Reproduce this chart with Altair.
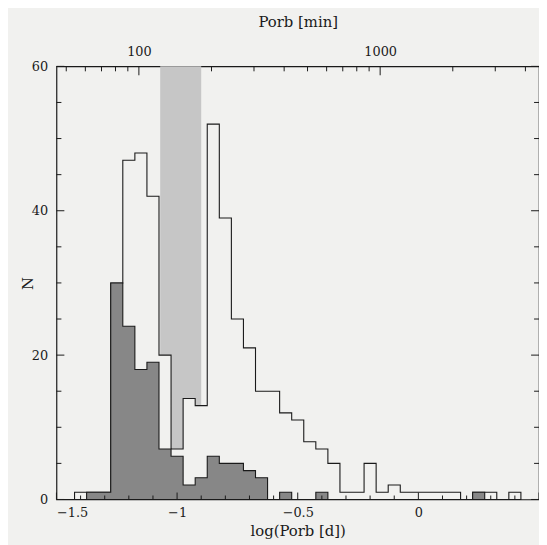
import altair as alt
import pandas as pd

# ---- data (histogram, bin width 0.05 in log P) ----
bin_centers = [-1.40, -1.35, -1.30, -1.25, -1.20, -1.15, -1.10, -1.05, -1.00, -0.95,
               -0.90, -0.85, -0.80, -0.75, -0.70, -0.65, -0.60, -0.55, -0.50, -0.45,
               -0.40, -0.35, -0.30, -0.25, -0.20, -0.15, -0.10, -0.05, 0.00, 0.05,
               0.10, 0.15, 0.20, 0.25, 0.30, 0.35, 0.40]
all_counts = [1, 1, 1, 30, 47, 48, 42, 20, 7, 14,
              13, 52, 39, 25, 21, 15, 15, 12, 11, 8,
              7, 5, 1, 1, 5, 1, 2, 1, 1, 1,
              1, 1, 0, 1, 1, 0, 1]
sub_counts = [0, 1, 1, 30, 24, 18, 19, 7, 6, 2,
              3, 6, 5, 5, 4, 3, 0, 1, 0, 0,
              1, 0, 0, 0, 0, 0, 0, 0, 0, 0,
              0, 0, 0, 1, 0, 0, 0]
gap_edges = [-1.07, -0.90]          # shaded period gap (log P [d])
BIN = 0.05

x_domain = [-1.5, 0.5]
y_domain = [0, 60]
x_labels = [-1.5, -1.0, -0.5, 0.0]
x_major = [-1.5, -1.0, -0.5, 0.0, 0.5]
x_minor = [-1.4, -1.3, -1.2, -1.1, -0.9, -0.8, -0.7, -0.6, -0.4, -0.3, -0.2, -0.1, 0.1, 0.2, 0.3, 0.4]
y_major = [0, 20, 40, 60]
y_minor = [5, 10, 15, 25, 30, 35, 45, 50, 55]
top_major = [100, 1000]
top_minor = [50, 60, 70, 80, 90, 200, 300, 400, 500, 600, 700, 800, 900, 2000, 3000, 4000]

MIN_PER_DAY = 1440

# ---- styling ----
PAPER = "#f1f1ef"
INK = "#1a1a1a"
BAND = "#c6c6c6"
DARK = "#878787"
FONT = "DejaVu Serif"
W, H = 488, 438


def step_frame(counts):
    xs = [round(bin_centers[0] - 1.5 * BIN, 4)]
    xs += [round(c - BIN / 2, 4) for c in bin_centers]
    xs += [round(bin_centers[-1] + BIN / 2, 4)]
    ys = [0] + list(counts) + [0]
    return pd.DataFrame({"x": xs, "n": ys})


xscale = alt.Scale(domain=x_domain, nice=False, zero=False)
yscale = alt.Scale(domain=y_domain, nice=False)
xaxis = alt.Axis(values=x_labels, format="~g", ticks=False, domain=False, grid=False,
                 title="log(Porb [d])", labelPadding=7, titlePadding=4)
yaxis = alt.Axis(values=y_major, ticks=False, domain=False, grid=False,
                 title="N", labelPadding=9, titleX=-21)

band = alt.Chart(pd.DataFrame({"x": [gap_edges[0]], "x2": [gap_edges[1]]})).mark_rect(
    color=BAND).encode(
    x=alt.X("x:Q", scale=xscale, axis=xaxis), x2="x2:Q",
    y=alt.value(0), y2=alt.value(H))

white = alt.Chart(step_frame(all_counts)).mark_area(
    interpolate="step-after", fill=PAPER, stroke=INK, strokeWidth=1.1, strokeJoin="miter").encode(
    x=alt.X("x:Q", scale=xscale, axis=xaxis),
    y=alt.Y("n:Q", scale=yscale, axis=yaxis))

dark = alt.Chart(step_frame(sub_counts)).mark_area(
    interpolate="step-after", fill=DARK, stroke=INK, strokeWidth=1.1, strokeJoin="miter").encode(
    x=alt.X("x:Q", scale=xscale, axis=xaxis),
    y=alt.Y("n:Q", scale=yscale, axis=yaxis))


def xticks(vals, length):
    d = pd.DataFrame({"x": vals})
    return alt.Chart(d).mark_rule(color=INK, strokeWidth=1).encode(
        x=alt.X("x:Q", scale=xscale, axis=xaxis), y=alt.value(H), y2=alt.value(H - length))


def yticks(vals, length, right=False):
    d = pd.DataFrame({"n": vals})
    if right:
        xa, xb = alt.value(W), alt.value(W - length)
    else:
        xa, xb = alt.value(0), alt.value(length)
    return alt.Chart(d).mark_rule(color=INK, strokeWidth=1).encode(
        y=alt.Y("n:Q", scale=yscale, axis=yaxis), x=xa, x2=xb)


bottom_group = alt.layer(
    band, white, dark,
    xticks(x_major, 7), xticks(x_minor, 4),
    yticks(y_major, 8), yticks(y_minor, 5),
    yticks(y_major, 8, right=True), yticks(y_minor, 5, right=True),
)

topscale = alt.Scale(type="log", domain=[MIN_PER_DAY * 10 ** x_domain[0], MIN_PER_DAY * 10 ** x_domain[1]],
                     nice=False)
topaxis = alt.Axis(orient="top", values=top_major, format="d", ticks=False, domain=False, grid=False,
                   title="Porb [min]", labelPadding=8, titlePadding=16)


def topticks(vals, length):
    d = pd.DataFrame({"m": vals})
    return alt.Chart(d).mark_rule(color=INK, strokeWidth=1).encode(
        x=alt.X("m:Q", scale=topscale, axis=topaxis), y=alt.value(0), y2=alt.value(length))


top_group = alt.layer(topticks(top_major, 9), topticks(top_minor, 5))

chart = alt.layer(bottom_group, top_group).resolve_scale(x="independent").properties(
    width=W, height=H,
    autosize=alt.AutoSizeParams(type="none"),
    padding={"left": 49, "top": 56, "right": 0, "bottom": 43},
    background=PAPER,
).configure_view(stroke=INK, strokeWidth=1.2).configure_axis(
    labelFont=FONT, titleFont=FONT, labelFontSize=13, titleFontSize=15,
    labelColor=INK, titleColor=INK, titleFontWeight="normal",
)

chart.save("out.html", embed_options={"renderer": "svg", "actions": False})
